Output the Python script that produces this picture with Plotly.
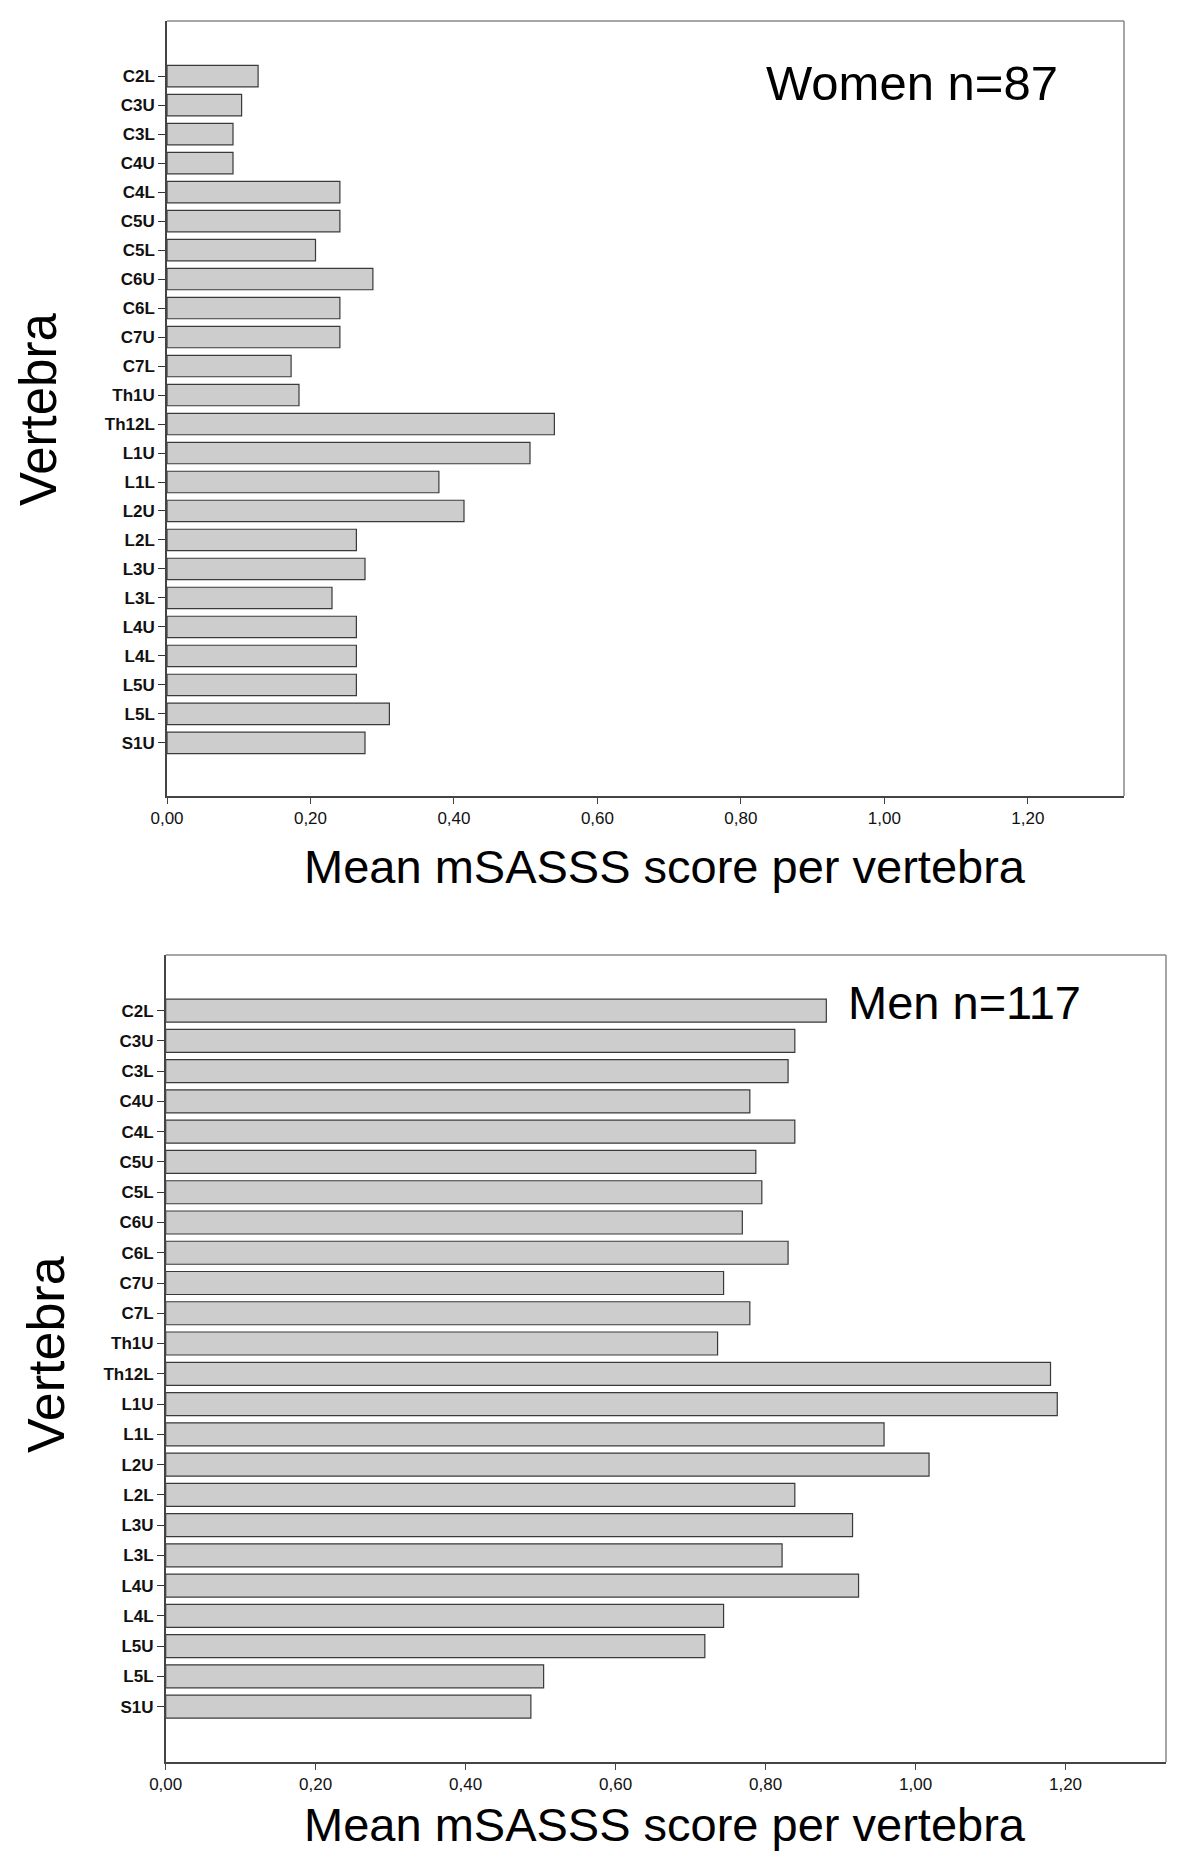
import plotly.graph_objects as go

# ---- data ----
vertebrae = ["C2L", "C3U", "C3L", "C4U", "C4L", "C5U", "C5L", "C6U", "C6L", "C7U",
             "C7L", "Th1U", "Th12L", "L1U", "L1L", "L2U", "L2L", "L3U", "L3L",
             "L4U", "L4L", "L5U", "L5L", "S1U"]
women_mean = [0.127, 0.104, 0.092, 0.092, 0.241, 0.241, 0.207, 0.287, 0.241, 0.241,
              0.173, 0.184, 0.540, 0.506, 0.379, 0.414, 0.264, 0.276, 0.230,
              0.264, 0.264, 0.264, 0.310, 0.276]
men_mean = [0.881, 0.839, 0.830, 0.779, 0.839, 0.787, 0.795, 0.769, 0.830, 0.744,
            0.779, 0.736, 1.180, 1.189, 0.958, 1.018, 0.839, 0.916, 0.822,
            0.924, 0.744, 0.719, 0.504, 0.487]
x_tickvals = [0.0, 0.2, 0.4, 0.6, 0.8, 1.0, 1.2]
x_ticktext = ["0,00", "0,20", "0,40", "0,60", "0,80", "1,00", "1,20"]
women_label = "Women n=87"
men_label = "Men n=117"
x_title = "Mean mSASSS score per vertebra"
y_title = "Vertebra"

# page body has an 8px default margin; size the figure to fit the window
OFF = 8
W, H = 1200 - 2 * OFF, 1860 - 2 * OFF
def px(x):
    return (x - OFF) / W
def py(y):
    return 1 - (y - OFF) / H

FONT = "Liberation Sans, Arial, sans-serif"
fig = go.Figure()

fig.add_trace(go.Bar(y=vertebrae, x=women_mean, orientation="h", width=0.74,
                     marker=dict(color="#cdcdcd", line=dict(color="#3a3a3a", width=1.2)),
                     xaxis="x", yaxis="y", showlegend=False, hoverinfo="x+y"))
fig.add_trace(go.Bar(y=vertebrae, x=men_mean, orientation="h", width=0.76,
                     marker=dict(color="#cdcdcd", line=dict(color="#3a3a3a", width=1.2)),
                     xaxis="x2", yaxis="y2", showlegend=False, hoverinfo="x+y"))

panels = [
    ("xaxis", "yaxis", 167, 1124, 21, 796, [24.83, -1.90], "y", "x"),
    ("xaxis2", "yaxis2", 165.7, 1166, 955, 1762, [24.83, -1.84], "y2", "x2"),
]
layout_axes = {}
shapes = []
for xk, yk, l, r, t, b, yr, yanchor, xanchor in panels:
    layout_axes[xk] = dict(
        domain=[px(l), px(r)], anchor=yanchor, range=[0, 1.334],
        tickmode="array", tickvals=x_tickvals, ticktext=x_ticktext,
        ticks="outside", ticklen=6, tickcolor="#444", tickwidth=1,
        showline=True, linecolor="#444", linewidth=1.5, mirror=False,
        showgrid=False, zeroline=False,
        tickfont=dict(family=FONT, size=17, color="#111"),
    )
    layout_axes[yk] = dict(
        domain=[py(b), py(t)], anchor=xanchor, range=yr,
        type="category", categoryorder="array", categoryarray=vertebrae,
        ticks="outside", ticklen=7, tickcolor="#333", tickwidth=1,
        showline=True, linecolor="#444", linewidth=1.5, mirror=False,
        showgrid=False, zeroline=False,
        tickfont=dict(family=FONT, size=17, color="#111", weight="bold"),
    )
    shapes.append(dict(type="line", xref="paper", yref="paper",
                       x0=px(l), x1=px(r), y0=py(t), y1=py(t),
                       line=dict(color="#888", width=1.5)))
    shapes.append(dict(type="line", xref="paper", yref="paper",
                       x0=px(r), x1=px(r), y0=py(t), y1=py(b),
                       line=dict(color="#888", width=1.5)))

annotations = [
    dict(text=women_label, x=px(764), y=py(83), xref="paper", yref="paper",
         xanchor="left", yanchor="middle", showarrow=False,
         font=dict(family=FONT, size=49, color="#000")),
    dict(text=men_label, x=px(846), y=py(1002), xref="paper", yref="paper",
         xanchor="left", yanchor="middle", showarrow=False,
         font=dict(family=FONT, size=47, color="#000")),
    dict(text=x_title, x=px(665), y=py(867), xref="paper", yref="paper",
         xanchor="center", yanchor="middle", showarrow=False,
         font=dict(family=FONT, size=47, color="#000")),
    dict(text=x_title, x=px(665), y=py(1824), xref="paper", yref="paper",
         xanchor="center", yanchor="middle", showarrow=False,
         font=dict(family=FONT, size=47, color="#000")),
    dict(text=y_title, x=px(38), y=py(410), xref="paper", yref="paper",
         xanchor="center", yanchor="middle", showarrow=False, textangle=-90,
         font=dict(family=FONT, size=51, color="#000")),
    dict(text=y_title, x=px(46), y=py(1355), xref="paper", yref="paper",
         xanchor="center", yanchor="middle", showarrow=False, textangle=-90,
         font=dict(family=FONT, size=52, color="#000")),
]

fig.update_layout(
    width=W, height=H,
    margin=dict(l=0, r=0, t=0, b=0, autoexpand=False),
    paper_bgcolor="white", plot_bgcolor="white",
    annotations=annotations, shapes=shapes,
    bargap=0.25,
    **layout_axes,
)

fig.write_html("out.html")
